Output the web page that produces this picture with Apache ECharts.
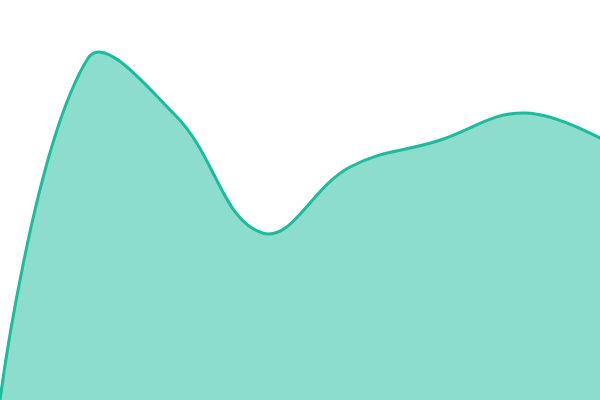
<!DOCTYPE html>
<html><head><meta charset="utf-8">
<script src="https://cdn.jsdelivr.net/npm/echarts@6/dist/echarts.min.js"></script>
<style>html,body{margin:0;padding:0;background:#fff}#c{width:600px;height:400px}</style>
</head><body><div id="c"></div>
<script>
const xs = [0, 1, 2, 3, 4, 5, 6, 7];
const values = [0, 341, 285, 167, 233, 259, 287, 255];

const SMOOTH = 0.4;
function smoothPath(pts) {
  // classic (unclamped) bezier smoothing: endpoints use themselves as control points
  const cps = [];
  for (let i = 0; i < pts.length; i++) {
    const p = pts[i];
    if (i === 0 || i === pts.length - 1) { cps.push([p.slice(), p.slice()]); continue; }
    const prev = pts[i - 1], next = pts[i + 1];
    const vx = (next[0] - prev[0]) * SMOOTH, vy = (next[1] - prev[1]) * SMOOTH;
    let d0 = Math.hypot(p[0] - prev[0], p[1] - prev[1]);
    let d1 = Math.hypot(next[0] - p[0], next[1] - p[1]);
    const sum = d0 + d1;
    if (sum) { d0 /= sum; d1 /= sum; }
    cps.push([[p[0] - vx * d0, p[1] - vy * d0], [p[0] + vx * d1, p[1] + vy * d1]]);
  }
  let d = 'M' + pts[0][0] + ' ' + pts[0][1];
  for (let i = 1; i < pts.length; i++) {
    const a = cps[i - 1][1], b = cps[i][0], p = pts[i];
    d += ' C' + a[0] + ' ' + a[1] + ' ' + b[0] + ' ' + b[1] + ' ' + p[0] + ' ' + p[1];
  }
  return d;
}

const chart = echarts.init(document.getElementById('c'));
chart.setOption({
  animation: false,
  grid: {left: 0, right: 0, top: 0, bottom: 0},
  xAxis: {type: 'value', min: 0, max: 6.857, show: false},
  yAxis: {type: 'value', min: 0, max: 400, show: false},
  series: [{
    type: 'custom',
    data: xs.map((x, i) => [x, values[i]]),
    encode: {x: 0, y: 1},
    renderItem: function (params, api) {
      if (params.dataIndex !== 0) return null;
      const pts = xs.map((x, i) => api.coord([x, values[i]]));
      const line = smoothPath(pts);
      const b0 = api.coord([xs[0], 0]);
      const b1 = api.coord([xs[xs.length - 1], 0]);
      const area = line + ' L' + b1[0] + ' ' + b1[1] + ' L' + b0[0] + ' ' + b0[1] + ' Z';
      return {
        type: 'group',
        children: [
          {type: 'path', shape: {pathData: area}, style: {fill: 'rgba(26,188,156,0.5)', stroke: null}},
          {type: 'path', shape: {pathData: line}, style: {fill: null, stroke: '#1abc9c', lineWidth: 3}}
        ]
      };
    }
  }]
});
</script></body></html>
